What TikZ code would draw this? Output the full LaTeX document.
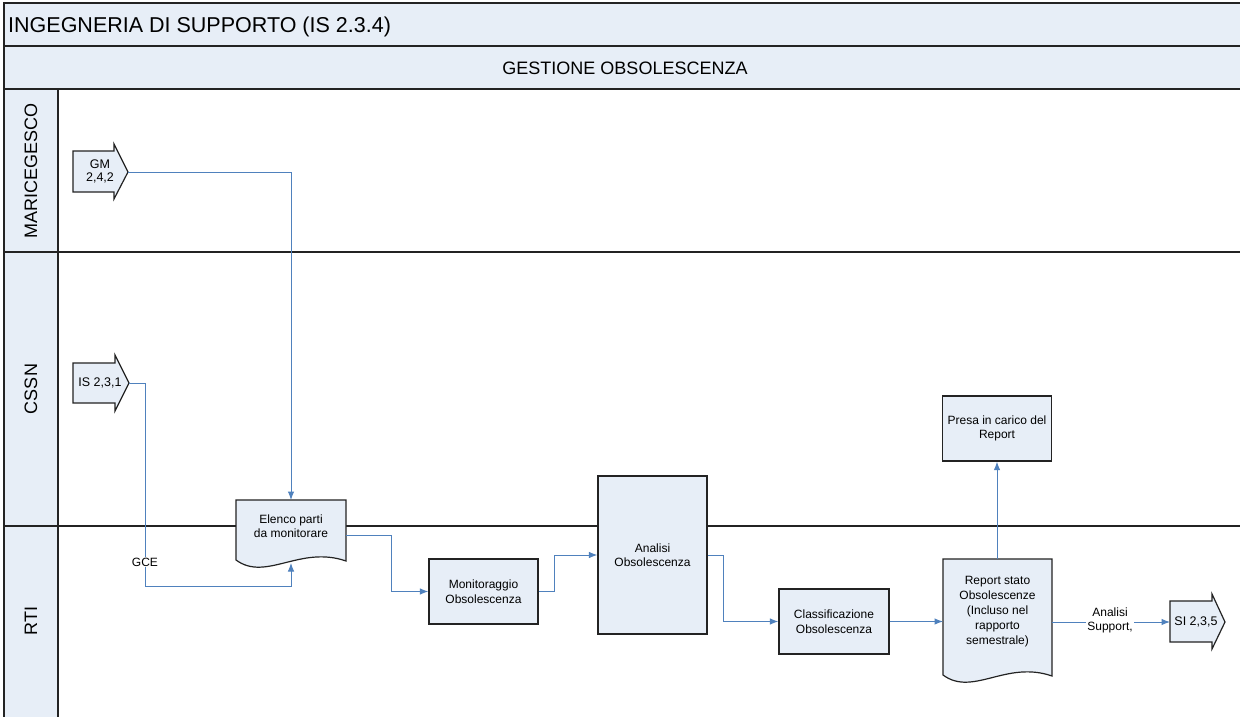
\documentclass[tikz,border=0pt]{standalone}
\usepackage{fontspec}
\setmainfont{Liberation Sans}
\usetikzlibrary{arrows.meta}
\definecolor{fillblue}{RGB}{231,238,247}
\definecolor{linkblue}{RGB}{79,129,189}
\definecolor{framecol}{RGB}{35,35,35}
\begin{document}
\begin{tikzpicture}[x=1pt,y=-1pt,
  lanerule/.style={draw=framecol,line width=1.4pt},
  box/.style={draw=framecol,line width=1.2pt,fill=fillblue},
  txt/.style={font=\fontsize{12}{14.5}\selectfont,align=center,inner sep=0pt},
  link/.style={draw=linkblue,line width=1pt,-{Latex[length=8.5pt,width=6.5pt]}},
  lbl/.style={font=\fontsize{12}{14.5}\selectfont,align=center,fill=white,inner sep=1pt},
  lanetitle/.style={font=\fontsize{18}{18}\selectfont,rotate=90,inner sep=0pt}
]
\useasboundingbox (0,0) rectangle (1240,717);
\fill[white] (0,0) rectangle (1240,717);
% bands
\fill[fillblue] (4,3) rectangle (1245,89);
\fill[fillblue] (4,89) rectangle (58,720);
\draw[lanerule] (1245,3) -- (4,3) -- (4,720);
\draw[lanerule] (4,46) -- (1245,46);
\draw[lanerule] (4,89) -- (1245,89);
\draw[lanerule] (58,89) -- (58,720);
\draw[lanerule] (4,252) -- (1245,252);
\draw[lanerule] (4,526) -- (1245,526);
\node[anchor=base west,font=\fontsize{21.5}{21.5}\selectfont,inner sep=0pt] (title) at (8,33) {INGEGNERIA DI SUPPORTO (IS 2.3.4)};
\node[anchor=base,font=\fontsize{18}{18}\selectfont,inner sep=0pt] (sub) at (625,74.5) {GESTIONE OBSOLESCENZA};
\node[lanetitle] (l1) at (31,171) {MARICEGESCO};
\node[lanetitle] (l2) at (31,389) {CSSN};
\node[lanetitle] (l3) at (31,621) {RTI};

% input / output arrows
\draw[box] (73,151) -- (114,151) -- (114,144) -- (128,172) -- (114,199) -- (114,192) -- (73,192) -- cycle;
\coordinate (gmtip) at (128,172);
\node[txt,font=\fontsize{12.5}{13}\selectfont] (gm) at (100,171.5) {GM\\2,4,2};

\draw[box] (73,363) -- (115,363) -- (115,355) -- (129,383) -- (115,411) -- (115,403) -- (73,403) -- cycle;
\coordinate (istip) at (129,383);
\node[txt,font=\fontsize{12.5}{13}\selectfont] (is) at (100,383) {IS 2,3,1};

\draw[box] (1170,601) -- (1212,601) -- (1212,594) -- (1225,622) -- (1212,649) -- (1212,642) -- (1170,642) -- cycle;
\coordinate (siL) at (1170,622);
\node[txt,font=\fontsize{12.5}{13}\selectfont] (si) at (1196,622) {SI 2,3,5};

% documents
\draw[box] (236,500) -- (346,500) -- (346,561) .. controls (300,545) and (266,582) .. (236,560) -- cycle;
\node[txt] (elenco) at (291,526) {Elenco parti\\da monitorare};
\coordinate (elT) at (291,500);
\coordinate (elB) at (291,563);
\coordinate (elR) at (346,535);

\draw[box] (943,559) -- (1052,559) -- (1052,676) .. controls (1006,660) and (973,697) .. (943,675) -- cycle;
\node[txt,font=\fontsize{12}{15}\selectfont] (report) at (997.5,612) {Report stato\\Obsolescenze\\(Incluso nel\\rapporto\\semestrale)};
\coordinate (repT) at (997,559);
\coordinate (repL) at (943,621.5);
\coordinate (repR) at (1052,622);

% process boxes
\node[box,txt,minimum width=109,minimum height=65] (mon) at (483.5,591.5) {Monitoraggio\\Obsolescenza};
\node[box,txt,minimum width=109,minimum height=158] (ana) at (652.5,555) {Analisi\\Obsolescenza};
\node[box,txt,minimum width=110,minimum height=65] (cls) at (834,621.5) {Classificazione\\Obsolescenza};
\node[box,txt,minimum width=109,minimum height=65] (pre) at (997,428.5) {Presa in carico del\\Report};

% connectors
\draw[link] (gmtip) -| (elT);
\draw[link] (istip) -- (145,383) -- (145,586) -| (elB);
\node[lbl] (gce) at (145,562) {GCE};
\draw[link] (elR) -- (391,535) |- (mon.west);
\draw[link] (mon.east) -- (554,591.5) |- (ana.west);
\draw[link] (ana.east) -- (723,555) |- (cls.west);
\draw[link] (cls.east) -- (repL);
\draw[link] (repT) -- (pre.south);
\draw[link] (repR) -- (siL);
\node[lbl] (asup) at (1110,620.5) {Analisi\\Support,};
\end{tikzpicture}
\end{document}
